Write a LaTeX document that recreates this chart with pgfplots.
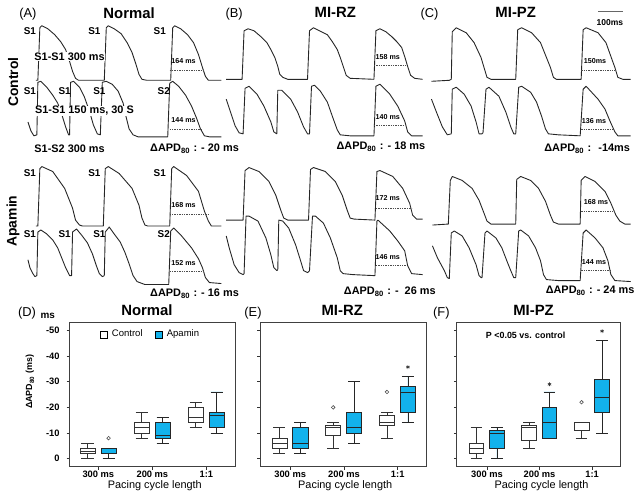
\documentclass[border=0pt]{standalone}
\usepackage{fontspec}
\setmainfont{Liberation Sans}
\usepackage{pgfplots}
\pgfplotsset{compat=1.18}
\usepgfplotslibrary{statistics}
\newcommand\fs[1]{\fontsize{#1}{#1}\selectfont}
\definecolor{apa}{RGB}{18,178,236}
\tikzset{tr/.style={black!85, line width=0.45pt, line join=round},
  dl/.style={black!70, line width=0.35pt, dash pattern=on 0.7pt off 0.5pt},
  bl/.style={font=\bfseries\fs{5}},
  ml/.style={font=\bfseries\fs{3.6}},
  dap/.style={font=\bfseries\fs{5.5}}}
\pgfplotsset{
  bpax/.style={scale only axis, height=72.5pt, ymin=-52.9, ymax=3.1, y dir=reverse,
    ytick={-50,-40,-30,-20,-10,0}, xtick={1,2,3}, xticklabels={300 ms,200 ms,1:1},
    tick align=outside, major tick length=1.5pt, tick pos=left,
    tick style={black!80, line width=0.4pt},
    axis line style={black!75, line width=0.45pt},
    ticklabel style={font=\bfseries\fs{4.7}},
    /pgf/number format/assume math mode=true, clip=false,
    xticklabel style={yshift=2.6pt}, boxplot/draw direction=y},
  cbox/.style={boxplot prepared={draw direction=y, #1, box extend=0.28}, draw=black!80, fill=white, line width=0.4pt},
  abox/.style={boxplot prepared={draw direction=y, #1, box extend=0.28}, draw=black!85, fill=apa, line width=0.4pt},
  circ/.style={only marks, mark=o, mark size=0.9pt, black!70, mark options={line width=0.3pt}},
  ast/.style={only marks, mark=asterisk, mark size=1pt, black!80, mark options={line width=0.3pt}}
}
\begin{document}
\begin{tikzpicture}
% ---------- canvas with traces ----------
\begin{axis}[at={(0,0)}, anchor=south west, scale only axis, width=320.5pt, height=251pt,
  xmin=0, xmax=641, ymin=0, ymax=502, y dir=reverse, hide axis, clip=false]
\path (axis cs:0,0) rectangle (axis cs:641,502);
% Panel A control
\addplot[tr] coordinates {(33,81) (35,81) (37,28) (39,26) (45,29) (52,35) (58,42) (63,50) (67,62) (70,72) (73,79) (76,81) (100,81) (102,81) (104,28) (106,26) (112,29) (119,34) (125,43) (130,53) (134,65) (137,75) (140,80) (145,81) (167,81) (169,81) (171,28) (173,26) (179,29) (186,35) (192,43) (197,55) (201,68) (204,77) (207,81) (220,81)};
\addplot[tr] coordinates {(25,123) (28,132) (31,137) (34,136) (35,83) (38,82) (44,88) (50,96) (55,104) (59,115) (63,128) (66,136) (67,136) (68,83) (71,82) (77,88) (82,98) (87,112) (91,126) (95,135) (98,136) (100,83) (104,82) (110,85) (116,92) (121,104) (124,118) (127,130) (131,136) (136,138) (166,138) (168,84) (171,82) (177,87) (184,96) (190,107) (195,119) (199,130) (203,137) (208,138) (220,138)};
% Panel A apamin
\addplot[tr] coordinates {(33,228) (35,228) (37,170) (39,168) (50,173) (62,190) (70,210) (73,222) (77,227) (80,228) (101,228) (103,170) (106,168) (117,175) (130,190) (137,207) (140,220) (143,227) (146,228) (168,228) (170,170) (172,168) (185,177) (197,193) (203,213) (207,223) (210,228) (220,228)};
\addplot[tr] coordinates {(25,262) (27,270) (30,276) (32,279) (34,278) (35,234) (38,232) (44,236) (50,242) (55,250) (59,260) (63,270) (67,278) (69,278) (70,234) (74,231) (79,237) (85,245) (90,256) (94,268) (97,276) (100,279) (102,278) (103,234) (107,229) (112,236) (118,244) (123,255) (127,266) (131,278) (135,284) (143,287) (167,287) (169,233) (172,230) (180,238) (190,250) (197,261) (201,270) (204,280) (208,285) (220,286)};
% Panel B control
\addplot[tr] coordinates {(225,80) (241,80) (243,31) (247,29) (253,31) (260,37) (266,43) (270,50) (274,58) (277,67) (279,75) (282,78) (287,80) (307,80) (309,31) (313,28) (319,31) (327,35) (332,42) (337,50) (340,58) (343,67) (346,76) (350,79) (374,80) (376,31) (380,29) (386,32) (392,37) (397,42) (402,48) (405,57) (408,67) (411,76) (415,79) (423,80)};
\addplot[tr] coordinates {(225,100) (230,115) (234,127) (238,134) (242,135) (244,89) (248,87) (256,95) (263,107) (270,123) (273,133) (276,135) (277,91) (281,91) (290,100) (297,113) (303,128) (307,135) (309,135) (311,87) (314,86) (320,92) (327,103) (333,120) (337,131) (340,136) (350,137) (374,137) (376,87) (380,85) (390,95) (398,107) (405,122) (408,133) (412,137) (423,137)};
% Panel B apamin
\addplot[tr] coordinates {(225,222) (242,222) (244,172) (248,169) (258,173) (268,183) (275,197) (280,212) (283,220) (287,222) (308,222) (310,171) (313,169) (325,173) (335,183) (342,197) (347,212) (350,220) (354,221) (375,222) (377,173) (380,172) (393,178) (403,190) (410,205) (413,217) (417,221) (423,221)};
\addplot[tr] coordinates {(225,238) (228,250) (233,267) (238,275) (242,277) (243,276) (245,218) (248,218) (257,223) (265,240) (270,257) (273,270) (276,273) (277,272) (278,222) (282,223) (288,230) (295,247) (300,263) (303,273) (307,275) (309,273) (312,218) (315,218) (323,225) (330,240) (337,260) (340,273) (343,276) (353,277) (374,278) (375,278) (377,223) (378,222) (390,233) (398,243) (405,253) (408,268) (412,276) (423,277)};
% Panel C control
\addplot[tr] coordinates {(432,82) (450,81) (452,80) (453,32) (454,31) (457,28) (467,33) (475,43) (482,58) (485,68) (488,78) (492,80) (517,80) (519,30) (523,28) (533,33) (542,43) (548,58) (552,68) (555,78) (558,80) (582,80) (583,80) (585,30) (588,28) (600,33) (608,43) (613,57) (617,68) (620,78) (625,80) (633,80)};
\addplot[tr] coordinates {(432,100) (437,113) (443,128) (448,136) (452,135) (453,90) (457,88) (465,95) (472,107) (477,123) (480,135) (483,135) (484,134) (487,90) (490,88) (500,97) (507,113) (512,128) (515,135) (517,135) (520,88) (523,87) (532,93) (538,103) (543,117) (547,130) (550,135) (560,136) (582,137) (585,90) (588,87) (600,100) (607,110) (612,122) (617,133) (620,137) (633,137)};
% Panel C apamin
\addplot[tr] coordinates {(433,227) (449,226) (451,182) (453,178) (463,182) (473,190) (480,202) (485,215) (488,223) (492,226) (517,226) (518,181) (522,178) (532,182) (540,190) (547,203) (552,217) (555,224) (560,226) (582,226) (583,182) (587,178) (597,183) (607,193) (613,205) (618,217) (622,223) (627,226) (633,226)};
\addplot[tr] coordinates {(433,248) (438,260) (445,273) (448,280) (450,281) (452,235) (455,233) (463,238) (470,250) (477,267) (480,278) (482,280) (483,280) (486,235) (488,233) (497,240) (503,250) (508,263) (512,273) (515,280) (517,280) (520,233) (522,232) (530,238) (537,250) (542,263) (545,277) (548,282) (560,283) (582,283) (585,235) (588,232) (597,240) (605,250) (610,263) (613,277) (617,283) (633,284)};
% APD80 dashed lines
\addplot[dl] coordinates {(168,71) (203,71)};
\addplot[dl] coordinates {(168,130) (200,130)};
\addplot[dl] coordinates {(168,216) (207,216)};
\addplot[dl] coordinates {(168,274) (203,274)};
\addplot[dl] coordinates {(374,66) (407,66)};
\addplot[dl] coordinates {(374,126) (405,126)};
\addplot[dl] coordinates {(376,210) (412,210)};
\addplot[dl] coordinates {(376,268) (407,268)};
\addplot[dl] coordinates {(583,71) (617,71)};
\addplot[dl] coordinates {(583,130) (615,130)};
\addplot[dl] coordinates {(583,213) (617,213)};
\addplot[dl] coordinates {(583,273) (614,273)};
% scale bar
\addplot[black!60, line width=0.5pt] coordinates {(600,12) (625,12)};
\node[font=\bfseries\fs{4.3}] at (axis cs:612,23) {100ms};
% titles
\node[font=\fs{6.5}] at (axis cs:25,14) {(A)};
\node[font=\fs{6.5}] at (axis cs:233,14) {(B)};
\node[font=\fs{6.5}] at (axis cs:430,14) {(C)};
\node[font=\bfseries\fs{7.5}] at (axis cs:127,13) {Normal};
\node[font=\bfseries\fs{7.5}] at (axis cs:335,13) {MI-RZ};
\node[font=\bfseries\fs{7.5}] at (axis cs:517,13) {MI-PZ};
\node[font=\bfseries\fs{7}, rotate=90] at (axis cs:10,83) {Control};
\node[font=\bfseries\fs{7}, rotate=90] at (axis cs:10,223) {Apamin};
% S labels
\node[bl] at (axis cs:27,31) {S1};
\node[bl] at (axis cs:92,31) {S1};
\node[bl] at (axis cs:158,31) {S1};
\node[bl] at (axis cs:27,92) {S1};
\node[bl] at (axis cs:62,92) {S1};
\node[bl] at (axis cs:97,92) {S1};
\node[bl] at (axis cs:162,92) {S2};
\node[bl] at (axis cs:27,175) {S1};
\node[bl] at (axis cs:92,175) {S1};
\node[bl] at (axis cs:158,175) {S1};
\node[bl] at (axis cs:27,236) {S1};
\node[bl] at (axis cs:62,236) {S1};
\node[bl] at (axis cs:97,236) {S1};
\node[bl] at (axis cs:162,236) {S2};
\node[dap, fill=white, inner sep=0.3pt] at (axis cs:67,57) {S1-S1 300 ms};
\node[dap, fill=white, inner sep=0.3pt] at (axis cs:82,112) {S1-S1 150 ms, 30 S};
\node[dap] at (axis cs:67,150) {S1-S2 300 ms};
% APD values
\node[ml] at (axis cs:182,62) {164 ms};
\node[ml] at (axis cs:182,121) {144 ms};
\node[ml] at (axis cs:182,207) {168 ms};
\node[ml] at (axis cs:182,265) {152 ms};
\node[ml] at (axis cs:388,58) {158 ms};
\node[ml] at (axis cs:388,118) {140 ms};
\node[ml] at (axis cs:388,200) {172 ms};
\node[ml] at (axis cs:388,259) {146 ms};
\node[ml] at (axis cs:597,62) {150ms};
\node[ml] at (axis cs:596,122) {136 ms};
\node[ml] at (axis cs:598,204) {168 ms};
\node[ml] at (axis cs:596,264) {144 ms};
% Delta APD labels
\node[dap] at (axis cs:193,150) {ΔAPD\textsubscript{80} : - 20 ms};
\node[dap] at (axis cs:381,148) {ΔAPD\textsubscript{80} : - 18 ms};
\node[dap] at (axis cs:589,150) {ΔAPD\textsubscript{80} : \ -14ms};
\node[dap] at (axis cs:193,296) {ΔAPD\textsubscript{80} : - 16 ms};
\node[dap] at (axis cs:390,294) {ΔAPD\textsubscript{80} : - \ 26 ms};
\node[dap] at (axis cs:592,293) {ΔAPD\textsubscript{80} : - 24 ms};
% bottom panel labels
\node[font=\fs{6.5}] at (axis cs:24,316) {(D)};
\node[font=\fs{6.5}] at (axis cs:252,316) {(E)};
\node[font=\fs{6.5}] at (axis cs:442,316) {(F)};
\node[font=\bfseries\fs{7.5}] at (axis cs:145,313) {Normal};
\node[font=\bfseries\fs{7.5}] at (axis cs:342,313) {MI-RZ};
\node[font=\bfseries\fs{7.5}] at (axis cs:535,313) {MI-PZ};
\node[font=\bfseries\fs{5}] at (axis cs:45,319) {ms};
\node[font=\bfseries\fs{4.5}, rotate=90] at (axis cs:27,385) {ΔAPD\textsubscript{80} (ms)};
\node[font=\fs{5.5}] at (axis cs:153,490) {Pacing cycle length};
\node[font=\fs{5.5}] at (axis cs:345,490) {Pacing cycle length};
\node[font=\fs{5.5}] at (axis cs:543,490) {Pacing cycle length};
\node[font=\bfseries\fs{4.5}] at (axis cs:527,338) {P <0.05 vs. control};
\end{axis}
% ---------- (D) Normal ----------
\begin{axis}[bpax, at={(33.5pt,15.65pt)}, anchor=south west, width=83.5pt, xmin=0.468, xmax=3.532,
  legend style={draw=none, fill=none, at={(0.494,0.917)}, anchor=center, legend columns=2,
    font=\fs{4.8}, /tikz/every even column/.append style={column sep=4pt}}]
\addlegendimage{legend image code/.code={\draw[draw=black,fill=white,line width=0.4pt] (0pt,-1.9pt) rectangle (3.8pt,1.9pt);}}
\addlegendentry{Control}
\addlegendimage{legend image code/.code={\draw[draw=black,fill=apa,line width=0.4pt] (0pt,-1.9pt) rectangle (3.8pt,1.9pt);}}
\addlegendentry{Apamin}
\addplot[cbox={draw position=0.8, lower whisker=-6, lower quartile=-4, median=-3, upper quartile=-2, upper whisker=0}] coordinates {};
\addplot[abox={draw position=1.19, lower whisker=-4, lower quartile=-4, median=-2, upper quartile=-2, upper whisker=0}] coordinates {};
\addplot[cbox={draw position=1.8, lower whisker=-18, lower quartile=-14, median=-12, upper quartile=-10, upper whisker=-8}] coordinates {};
\addplot[abox={draw position=2.19, lower whisker=-16, lower quartile=-14, median=-9, upper quartile=-8, upper whisker=-6}] coordinates {};
\addplot[cbox={draw position=2.8, lower whisker=-22, lower quartile=-20, median=-16, upper quartile=-14, upper whisker=-12}] coordinates {};
\addplot[abox={draw position=3.19, lower whisker=-26, lower quartile=-18, median=-17, upper quartile=-12, upper whisker=-10}] coordinates {};
\addplot[circ] coordinates {(1.19,-8)};
\end{axis}
% ---------- (E) MI-RZ ----------
\begin{axis}[bpax, at={(129.65pt,15.65pt)}, anchor=south west, width=83.7pt, xmin=0.443, xmax=3.53, yticklabels={}]
\addplot[cbox={draw position=0.8, lower whisker=-12, lower quartile=-8, median=-6, upper quartile=-4, upper whisker=-2}] coordinates {};
\addplot[abox={draw position=1.19, lower whisker=-14, lower quartile=-12, median=-6, upper quartile=-4, upper whisker=-2}] coordinates {};
\addplot[cbox={draw position=1.8, lower whisker=-14, lower quartile=-13, median=-12, upper quartile=-9, upper whisker=-4}] coordinates {};
\addplot[abox={draw position=2.19, lower whisker=-30, lower quartile=-18, median=-12, upper quartile=-10, upper whisker=-6}] coordinates {};
\addplot[cbox={draw position=2.8, lower whisker=-18, lower quartile=-17, median=-14, upper quartile=-13, upper whisker=-8}] coordinates {};
\addplot[abox={draw position=3.19, lower whisker=-32, lower quartile=-28, median=-26, upper quartile=-18, upper whisker=-14}] coordinates {};
\addplot[circ] coordinates {(1.8,-20) (2.8,-26)};
\addplot[ast] coordinates {(3.19,-35.7)};
\end{axis}
% ---------- (F) MI-PZ ----------
\begin{axis}[bpax, at={(228.85pt,15.65pt)}, anchor=south west, width=82.3pt, xmin=0.428, xmax=3.534, yticklabels={}]
\addplot[cbox={draw position=0.8, lower whisker=-12, lower quartile=-6, median=-4, upper quartile=-2, upper whisker=0}] coordinates {};
\addplot[abox={draw position=1.19, lower whisker=-12, lower quartile=-11, median=-10, upper quartile=-4, upper whisker=0}] coordinates {};
\addplot[cbox={draw position=1.8, lower whisker=-14, lower quartile=-13, median=-12, upper quartile=-7, upper whisker=-4}] coordinates {};
\addplot[abox={draw position=2.19, lower whisker=-26, lower quartile=-20, median=-14, upper quartile=-8, upper whisker=-8}] coordinates {};
\addplot[cbox={draw position=2.8, lower whisker=-14, lower quartile=-14, median=-11, upper quartile=-11, upper whisker=-8}] coordinates {};
\addplot[abox={draw position=3.19, lower whisker=-46, lower quartile=-31, median=-24, upper quartile=-18, upper whisker=-10}] coordinates {};
\addplot[circ] coordinates {(2.8,-22)};
\addplot[ast] coordinates {(2.19,-29) (3.19,-49.7)};
\end{axis}
\end{tikzpicture}
\end{document}
